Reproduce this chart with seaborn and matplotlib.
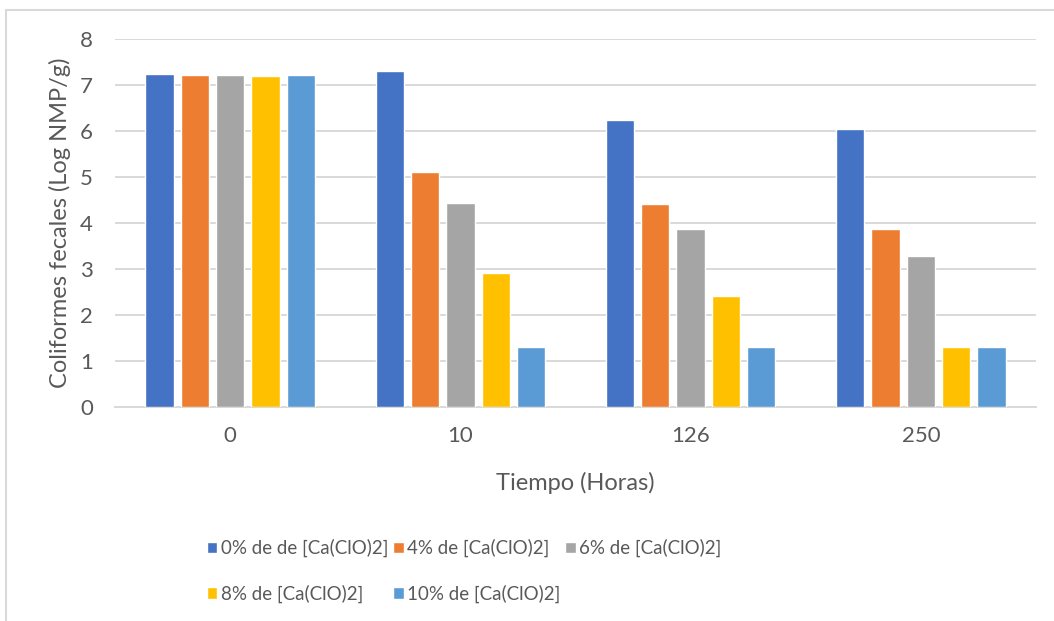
import matplotlib
matplotlib.use("Agg")
import matplotlib.pyplot as plt
from matplotlib.lines import Line2D
import seaborn as sns
import pandas as pd

# Exposure time (hours) and fecal coliform counts (Log NMP/g) per Ca(ClO)2 dose
tiempos = ["0", "10", "126", "250"]
series = [
    "0% de de [Ca(ClO)2]",
    "4% de [Ca(ClO)2]",
    "6% de [Ca(ClO)2]",
    "8% de [Ca(ClO)2]",
    "10% de [Ca(ClO)2]",
]
dosis_0 = [7.24, 7.31, 6.25, 6.05]
dosis_4 = [7.21, 5.10, 4.42, 3.88]
dosis_6 = [7.21, 4.43, 3.88, 3.29]
dosis_8 = [7.20, 2.91, 2.42, 1.30]
dosis_10 = [7.21, 1.30, 1.30, 1.30]
colores = ["#4472C4", "#ED7D31", "#A5A5A5", "#FFC000", "#5B9BD5"]

valores = [dosis_0, dosis_4, dosis_6, dosis_8, dosis_10]
rows = []
for nombre, vals in zip(series, valores):
    for t, v in zip(tiempos, vals):
        rows.append({"Tiempo": t, "Serie": nombre, "Valor": v})
df = pd.DataFrame(rows)

sns.set_style("white")
plt.rcParams["font.family"] = ["Lato", "DejaVu Sans"]
texto = "#595959"
grid = "#D9D9D9"

fig = plt.figure(figsize=(10.54, 6.21), dpi=100)
ax = fig.add_axes([115 / 1054, 1 - 407 / 621, (1036 - 115) / 1054, (407 - 39) / 621])

sns.barplot(
    data=df, x="Tiempo", y="Valor", hue="Serie",
    order=tiempos, hue_order=series, palette=colores,
    width=0.767, gap=0.2, errorbar=None, saturation=1,
    ax=ax, zorder=3,
)

ax.set_ylim(0, 8)
ax.set_yticks(range(0, 9))
ax.yaxis.grid(True, color=grid, linewidth=1.4, zorder=0)
ax.set_axisbelow(True)
for s in ["top", "right", "left"]:
    ax.spines[s].set_visible(False)
ax.spines["bottom"].set_color(grid)
ax.spines["bottom"].set_linewidth(1.4)
ax.tick_params(axis="both", length=0, labelsize=16, labelcolor=texto)
ax.tick_params(axis="x", pad=14)
ax.tick_params(axis="y", pad=16)

ax.set_xlabel("Tiempo (Horas)", fontsize=17, color=texto, labelpad=18)
ax.set_ylabel("Coliformes fecales (Log NMP/g)", fontsize=17, color=texto, labelpad=6)

# Legend filled row by row (three entries, then two)
leg = ax.get_legend()
handles = list(leg.legend_handles)
labels = [t.get_text() for t in leg.get_texts()]
leg.remove()
orden = [0, 3, 1, 4, 2]
fig.legend(
    [handles[i] for i in orden], [labels[i] for i in orden],
    loc="upper left", bbox_to_anchor=(207 / 1054, 1 - 539 / 621),
    ncol=3, frameon=False, fontsize=13.5, labelcolor=texto,
    handlelength=0.55, handleheight=0.6, handletextpad=0.2,
    columnspacing=0.25, labelspacing=1.45, borderpad=0, borderaxespad=0,
)

# Light chart-area frame along the top and left edges
fig.add_artist(Line2D([6 / 1054, 6 / 1054], [0, 1 - 10 / 621], transform=fig.transFigure,
                      color=grid, linewidth=1.5))
fig.add_artist(Line2D([6 / 1054, 1], [1 - 10 / 621, 1 - 10 / 621], transform=fig.transFigure,
                      color=grid, linewidth=1.5))

fig.savefig("out.png", dpi=100, facecolor="white")
